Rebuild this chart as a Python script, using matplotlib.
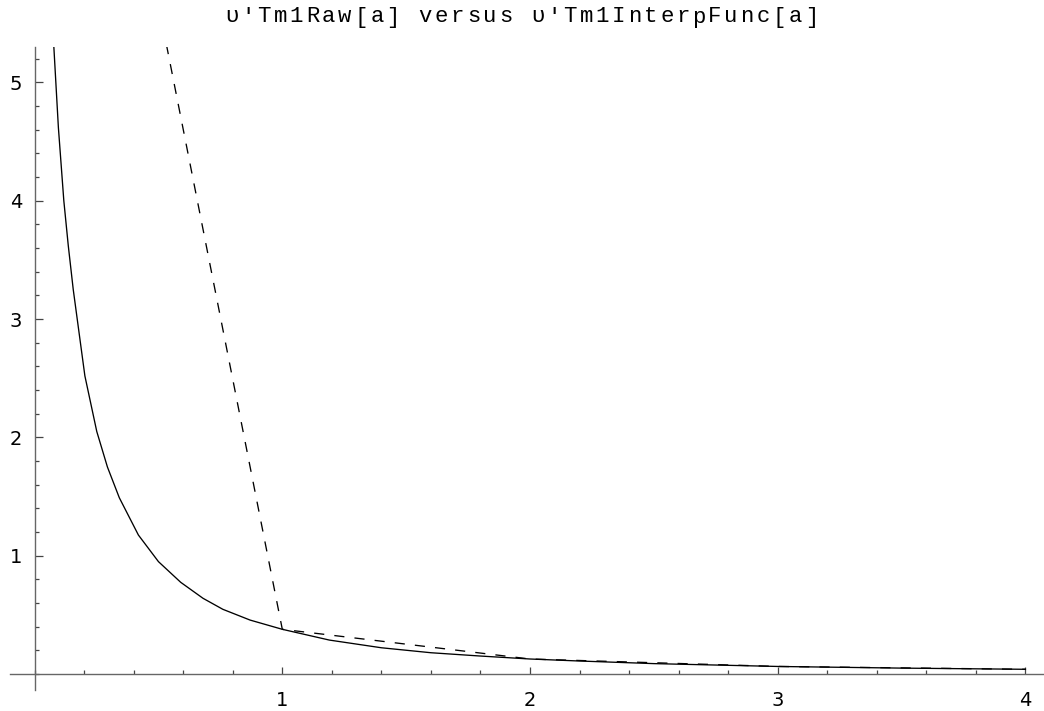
import matplotlib.pyplot as plt
from matplotlib.ticker import MultipleLocator

plt.rcParams['lines.scale_dashes'] = False

# raw samples of Tm1 (solid curve)
raw_a = [0.07, 0.078, 0.096, 0.118, 0.136, 0.156, 0.203, 0.251, 0.294, 0.342,
         0.419, 0.50, 0.59, 0.68, 0.76, 0.87, 1.0, 1.19, 1.4, 1.6, 1.8, 2.0,
         2.2, 2.5, 3.0, 3.5, 4.0]
raw_val = [5.6, 5.29, 4.62, 4.0, 3.62, 3.25, 2.52, 2.05, 1.75, 1.49,
           1.175, 0.95, 0.775, 0.64, 0.547, 0.456, 0.378, 0.287, 0.222, 0.18,
           0.152, 0.127, 0.11, 0.088, 0.064, 0.05, 0.04]

# interpolating function nodes (dashed curve), extrapolated below a=1
interp_a = [0.5, 1.0, 2.0, 3.0, 4.0]
interp_val = [5.66, 0.378, 0.127, 0.064, 0.040]

x_ticks = [1, 2, 3, 4]
y_ticks = [1, 2, 3, 4, 5]

title = "υ'Tm1Raw[a] versus υ'Tm1InterpFunc[a]"

W, H = 1044, 711
fig = plt.figure(figsize=(W / 100, H / 100), dpi=100)
# axes box in pixels: left 10, right 1044, top 47, bottom 690
ax = fig.add_axes([10 / W, 1 - 690 / H, 1034 / W, (690 - 47) / H])
ax.set_xlim(-0.0993, 4.075)
ax.set_ylim(-0.135, 5.30)

ax.plot(raw_a, raw_val, color='black', lw=0.95)
ax.plot(interp_a, interp_val, color='black', lw=0.95, dashes=(7.3, 7.3))

for s in ['top', 'right']:
    ax.spines[s].set_visible(False)
for s in ['left', 'bottom']:
    ax.spines[s].set_position(('data', 0))
    ax.spines[s].set_color('#666666')
    ax.spines[s].set_linewidth(1.0)

ax.set_xticks(x_ticks)
ax.set_yticks(y_ticks)
ax.xaxis.set_minor_locator(MultipleLocator(0.2))
ax.yaxis.set_minor_locator(MultipleLocator(0.2))
ax.tick_params(which='both', direction='in', color='#444444', width=0.9,
               labelsize=14, labelcolor='black')
ax.tick_params(which='major', length=5.4)
ax.tick_params(which='minor', length=3.2)
ax.tick_params(axis='x', which='major', pad=12.5)
ax.tick_params(axis='y', which='major', pad=9)

# title set character by character on a wide fixed pitch
pitch = 16.1
x0 = 232
for i, ch in enumerate(title):
    if ch == ' ':
        continue
    fig.text((x0 + i * pitch) / W, 1 - 17 / H, ch, ha='center', va='center',
             fontsize=16, family=['Liberation Mono', 'DejaVu Sans Mono'])

fig.savefig('out.png', dpi=100)
